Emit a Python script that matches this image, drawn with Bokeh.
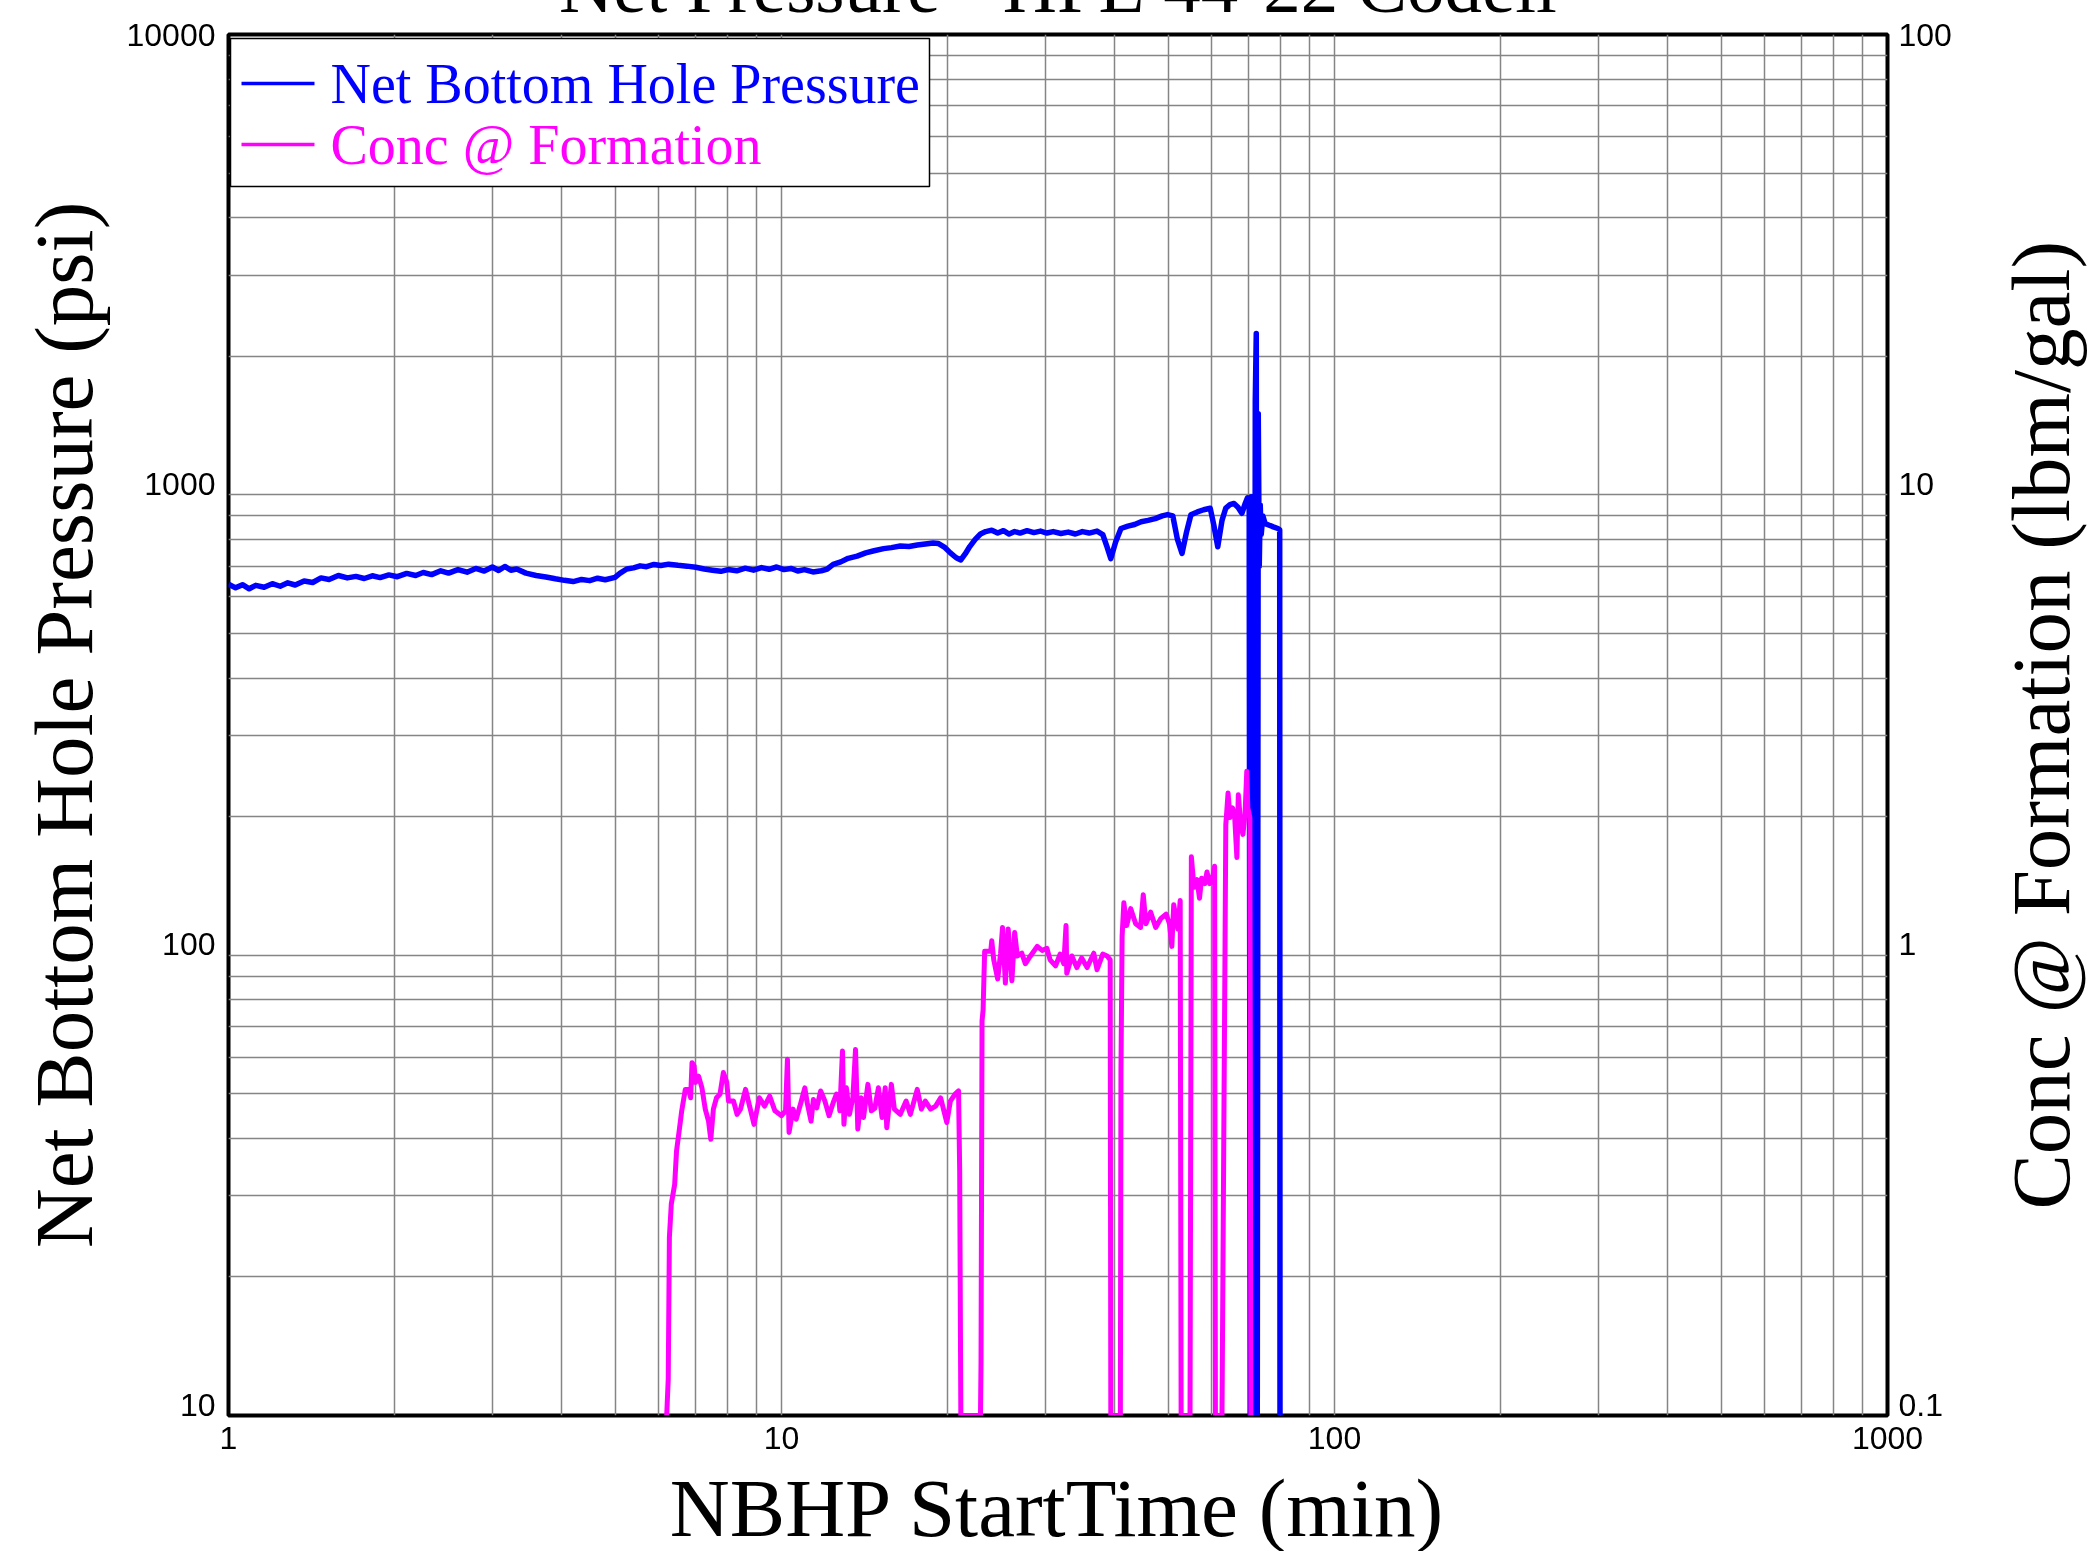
import math
from bokeh.plotting import figure
from bokeh.models import (Range1d, LogScale, LogAxis, FixedTicker, Label, BoxAnnotation,
                          Arrow, CustomJSTickFormatter)
from bokeh.embed import file_html
from bokeh.resources import INLINE

# ---------------- data ----------------
title_text = "Net Pressure - HPE 44-22 Codell"
x_title = "NBHP StartTime (min)"
y_title = "Net Bottom Hole Pressure (psi)"
y2_title = "Conc @ Formation (lbm/gal)"
series_names = ["Net Bottom Hole Pressure", "Conc @ Formation"]

time_nbhp = [1.00, 1.03, 1.06, 1.09, 1.12, 1.16, 1.20, 1.24, 1.28, 1.32, 1.37, 1.42, 1.47, 1.52,
             1.58, 1.64, 1.70, 1.76, 1.82, 1.88, 1.95, 2.02, 2.10, 2.18, 2.25, 2.33, 2.42, 2.50,
             2.60, 2.70, 2.80, 2.90, 3.00, 3.08, 3.16, 3.24, 3.32, 3.45, 3.60, 3.75, 3.90, 4.05,
             4.20, 4.35, 4.50, 4.65, 4.80, 5.00, 5.10, 5.25, 5.40, 5.55, 5.70, 5.88, 6.05, 6.25,
             6.50, 6.75, 7.00, 7.25, 7.50, 7.77, 8.00, 8.30, 8.60, 8.90, 9.20, 9.50, 9.80, 10.1,
             10.4, 10.7, 11.0, 11.4, 11.8, 12.1, 12.4, 12.8, 13.2, 13.7, 14.2, 14.7, 15.3, 15.8,
             16.4, 17.0, 17.6, 18.2, 18.8, 19.2, 19.7, 20.2, 20.7, 21.1, 21.5, 21.9, 22.4, 22.9,
             23.4, 24.0, 24.6, 25.2, 25.8, 26.4, 27.0, 27.8, 28.6, 29.4, 30.2, 31.0, 32.0, 33.0,
             34.0, 35.0, 36.0, 37.2, 38.1, 38.8, 39.4, 40.2, 41.1, 42.3, 43.5, 44.7, 46.0, 47.4,
             48.8, 49.9, 51.0, 52.0, 53.0, 54.0, 55.0, 56.5, 58.0, 59.6, 60.5, 61.5, 62.6, 63.6,
             64.7, 65.8, 66.9, 68.0, 69.0, 69.6, 70.1, 70.4, 70.7, 71.0, 71.3, 71.6, 71.9, 72.2,
             72.5, 72.8, 73.1, 73.4, 73.7, 74.2, 74.9, 76.0, 77.5, 79.0, 79.6, 79.7]
nbhp_psi = [640, 628, 638, 625, 636, 630, 641, 633, 644, 637, 650, 645, 660, 655,
            668, 660, 665, 658, 667, 661, 670, 664, 675, 668, 678, 671, 684, 676,
            688, 679, 692, 683, 697, 685, 699, 686, 690, 676, 668, 663, 657, 652,
            648, 655, 651, 659, 654, 662, 675, 690, 694, 701, 698, 706, 702, 707,
            703, 700, 696, 690, 686, 682, 688, 684, 693, 686, 695, 689, 697, 688,
            692, 683, 688, 680, 684, 690, 706, 715, 728, 736, 748, 756, 764, 768,
            774, 772, 778, 782, 786, 784, 770, 748, 730, 722, 745, 772, 800, 822,
            832, 838, 826, 836, 822, 832, 826, 836, 828, 834, 826, 832, 824, 830,
            822, 832, 826, 834, 820, 770, 727, 790, 845, 855, 862, 874, 880, 888,
            900, 906, 900, 800, 746, 830, 905, 918, 928, 935, 860, 771, 880, 936,
            952, 958, 940, 912, 960, 985, 975, 10, 990, 10, 920, 10, 1600, 2240,
            10, 1500, 700, 950, 820, 900, 866, 860, 852, 845, 840, 10]

time_conc = [6.20, 6.24, 6.27, 6.32, 6.41, 6.46, 6.53, 6.60, 6.70, 6.80, 6.85, 6.89, 6.95, 6.99,
             7.08, 7.18, 7.28, 7.38, 7.45, 7.53, 7.63, 7.74, 7.85, 7.96, 8.02, 8.19, 8.31, 8.43,
             8.61, 8.74, 8.92, 9.12, 9.32, 9.52, 9.73, 10.0, 10.17, 10.25, 10.32, 10.49, 10.63,
             10.84, 11.02, 11.13, 11.31, 11.42, 11.58, 11.77, 11.98, 12.19, 12.40, 12.57, 12.69,
             12.75, 12.89, 12.97, 13.10, 13.27, 13.46, 13.61, 13.74, 13.93, 14.07, 14.33, 14.54,
             14.75, 14.97, 15.2, 15.4, 15.5, 15.8, 16.0, 16.4, 16.8, 17.1, 17.6, 17.9, 18.2,
             18.6, 19.0, 19.4, 19.9, 20.2, 20.6, 20.9, 21.0, 21.1,
             22.9, 22.95, 23.05, 23.15, 23.3, 23.9, 24.0, 24.2, 24.6, 24.9, 25.1, 25.4, 25.7,
             26.0, 26.1, 26.4, 26.7, 27.2, 27.6, 28.2, 29.0, 29.6, 30.2, 30.6, 31.3, 31.9, 32.4,
             32.7, 32.8, 33.5, 34.2, 34.9, 35.7, 36.7, 37.2, 38.1, 38.8, 39.3, 39.4,
             41.0, 41.1, 41.3, 41.6, 42.1, 42.8, 43.7, 44.6, 45.1, 45.6, 46.5, 47.5, 48.5, 49.6,
             50.3, 50.8, 51.2, 52.1, 52.6, 52.8,
             54.8, 55.1, 55.7, 56.4, 57.0, 57.5, 58.3, 58.8, 59.5, 60.3, 60.7, 60.9,
             62.6, 63.6, 64.2, 64.7, 65.4, 66.0, 66.6, 67.0, 67.7, 68.3, 68.9, 69.4, 69.7,
             70.3, 70.6]
conc_lbm_gal = [0.1, 0.12, 0.244, 0.288, 0.318, 0.376, 0.415, 0.459, 0.511, 0.511, 0.49, 0.584,
                0.575, 0.529, 0.546, 0.515, 0.463, 0.436, 0.398, 0.463, 0.490, 0.499, 0.556,
                0.530, 0.482, 0.482, 0.451, 0.463, 0.511, 0.474, 0.429, 0.490, 0.470, 0.494,
                0.459, 0.448, 0.459, 0.594, 0.412, 0.463, 0.440, 0.478, 0.515, 0.478, 0.436,
                0.486, 0.466, 0.507, 0.482, 0.448, 0.478, 0.499, 0.495, 0.459, 0.619, 0.429,
                0.515, 0.451, 0.490, 0.624, 0.419, 0.490, 0.444, 0.524, 0.459, 0.465, 0.515,
                0.444, 0.515, 0.422, 0.524, 0.463, 0.451, 0.482, 0.451, 0.511, 0.463, 0.482,
                0.463, 0.470, 0.490, 0.433, 0.482, 0.499, 0.507, 0.340, 0.1,
                0.1, 0.13, 0.72, 0.76, 1.02, 1.02, 1.075, 0.977, 0.888, 1.01, 1.149, 0.87, 1.14,
                0.94, 0.88, 1.12, 0.996, 1.01, 0.958, 0.996, 1.045, 1.024, 1.035, 0.977, 0.948,
                1.005, 0.958, 1.16, 0.913, 0.996, 0.94, 0.986, 0.94, 1.01, 0.93, 1.005, 0.996,
                0.977, 0.1,
                0.1, 0.56, 1.10, 1.30, 1.16, 1.262, 1.17, 1.149, 1.353, 1.17, 1.24, 1.149, 1.20,
                1.228, 1.17, 1.045, 1.287, 1.14, 1.314, 0.1,
                0.1, 1.637, 1.404, 1.46, 1.33, 1.47, 1.43, 1.516, 1.43, 1.49, 1.56, 0.1,
                0.1, 1.92, 2.25, 1.99, 2.09, 1.99, 1.63, 2.23, 1.92, 1.83, 2.02, 2.51, 2.09,
                1.99, 0.1]

x_ticks = [1, 10, 100, 1000]
x_tick_labels = ["1", "10", "100", "1000"]
y_ticks = [10, 100, 1000, 10000]
y_tick_labels = ["10", "100", "1000", "10000"]
y2_ticks = [0.1, 1, 10, 100]
y2_tick_labels = ["0.1", "1", "10", "100"]

# ---------------- styling / layout ----------------
BLUE = "#0000ff"
MAGENTA = "#ff00ff"
SERIF = "Liberation Serif"
SANS = "Liberation Sans"

FW, FH = 1659, 1381
DECADE_PX = FH / 3.0
TOP_BORDER = 110          # canvas px above the frame (title panel lives here)
PAGE_FRAME_TOP = 34       # where the frame top sits in the window
LABEL_LIFT_PX = 11        # tick labels sit on their grid line (baseline), as in the reference

p = figure(
    x_axis_type="log", y_axis_type="log",
    x_range=Range1d(1, 1000), y_range=Range1d(10, 10000),
    frame_width=FW, frame_height=FH,
    min_border_left=228, min_border_right=0, min_border_top=TOP_BORDER, min_border_bottom=0,
    output_backend="svg", toolbar_location=None,
    background_fill_color="white", border_fill_color="white",
    styles={"position": "fixed", "left": "0px", "top": f"-{TOP_BORDER - PAGE_FRAME_TOP}px"},
)
p.extra_y_ranges = {"conc": Range1d(0.1, 100)}
p.extra_y_scales = {"conc": LogScale()}

# title (mostly above the visible window, as in the reference)
p.title.text = title_text
p.title.text_font = SERIF
p.title.text_font_size = "75px"
p.title.text_font_style = "normal"
p.title.text_color = "black"
p.title.align = "center"
p.title.vertical_align = "bottom"
p.title.standoff = 14
p.title.offset = 0

p.outline_line_color = "black"
p.outline_line_width = 4
p.outline_line_alpha = 1

lift = 10 ** (LABEL_LIFT_PX / DECADE_PX)


def lifted(ticks, top):
    # label positions: baseline on the grid line, except the top one which must stay in range
    return [v * lift if v * lift <= top else v for v in ticks]


right_ticks_axis = LogAxis(y_range_name="conc")
p.add_layout(right_ticks_axis, "right")

# second right axis carrying the right-hand title, reading bottom-to-top and centred
L_TITLE = 969.0
title_start = 10 ** (math.log10(0.1) + (FH / 2 - L_TITLE / 2) / DECADE_PX)
right_title_axis = LogAxis(y_range_name="conc")
p.add_layout(right_title_axis, "right")

p.xaxis.ticker = FixedTicker(ticks=x_ticks)
p.xaxis.formatter = CustomJSTickFormatter(args=dict(labels=x_tick_labels),
                                          code="return labels[index];")
p.yaxis[0].ticker = FixedTicker(ticks=lifted(y_ticks, 10000))
p.yaxis[0].formatter = CustomJSTickFormatter(args=dict(labels=y_tick_labels),
                                             code="return labels[index];")
right_ticks_axis.ticker = FixedTicker(ticks=lifted(y2_ticks, 100))
right_ticks_axis.formatter = CustomJSTickFormatter(args=dict(labels=y2_tick_labels),
                                                   code="return labels[index];")
right_title_axis.ticker = FixedTicker(ticks=[title_start])
right_title_axis.formatter = CustomJSTickFormatter(args=dict(t=y2_title), code="return t;")

for ax in p.axis:
    ax.axis_line_color = None
    ax.major_tick_line_color = None
    ax.minor_tick_line_color = None
    ax.major_tick_in = 0
    ax.major_tick_out = 0
    ax.minor_tick_in = 0
    ax.minor_tick_out = 0
    ax.major_label_text_font = SANS
    ax.major_label_text_font_size = "32px"
    ax.major_label_text_color = "black"
    ax.axis_label_text_font = SERIF
    ax.axis_label_text_font_size = "83px"
    ax.axis_label_text_font_style = "normal"
    ax.axis_label_text_color = "black"

p.xaxis.axis_label = x_title
p.xaxis.major_label_standoff = 11
p.xaxis.axis_label_standoff = 10
p.yaxis[0].axis_label = y_title
p.yaxis[0].major_label_standoff = 13
p.yaxis[0].axis_label_standoff = 14
right_ticks_axis.major_label_standoff = 11
right_title_axis.major_label_text_font = SERIF
right_title_axis.major_label_text_font_size = "83px"
right_title_axis.major_label_orientation = math.pi / 2
right_title_axis.major_label_standoff = 86

x_minor = [m * 10 ** e for e in range(0, 3) for m in range(2, 10)]
y_minor = [m * 10 ** e for e in range(1, 4) for m in range(2, 10)]
GRID = "#858585"
p.xgrid.ticker = FixedTicker(ticks=x_ticks, minor_ticks=x_minor)
p.ygrid.ticker = FixedTicker(ticks=y_ticks, minor_ticks=y_minor)
for g in (p.xgrid, p.ygrid):
    g.grid_line_color = GRID
    g.grid_line_width = 1.5
    g.minor_grid_line_color = GRID
    g.minor_grid_line_width = 1.5

p.line(time_nbhp, nbhp_psi, line_color=BLUE, line_width=5.5, line_join="round")
p.line(time_conc, conc_lbm_gal, line_color=MAGENTA, line_width=5, line_join="round",
       y_range_name="conc")

# legend (box, sample lines, coloured labels)
p.add_layout(BoxAnnotation(left=2, right=701, bottom=1229, top=1377,
                           left_units="screen", right_units="screen",
                           bottom_units="screen", top_units="screen",
                           fill_color="white", fill_alpha=1.0,
                           line_color="black", line_width=1.5, line_alpha=1.0))
rows_y = [1332, 1271]
for name, col, ry in zip(series_names, [BLUE, MAGENTA], rows_y):
    p.add_layout(Arrow(x_start=13, y_start=ry, x_end=86, y_end=ry,
                       start_units="screen", end_units="screen", end=None,
                       line_color=col, line_width=3.5))
    p.add_layout(Label(x=102, y=ry, x_units="screen", y_units="screen", text=name,
                       text_align="left", text_baseline="middle", text_font=SERIF,
                       text_font_size="56px", text_color=col))

open("out.html", "w").write(file_html(p, INLINE))
